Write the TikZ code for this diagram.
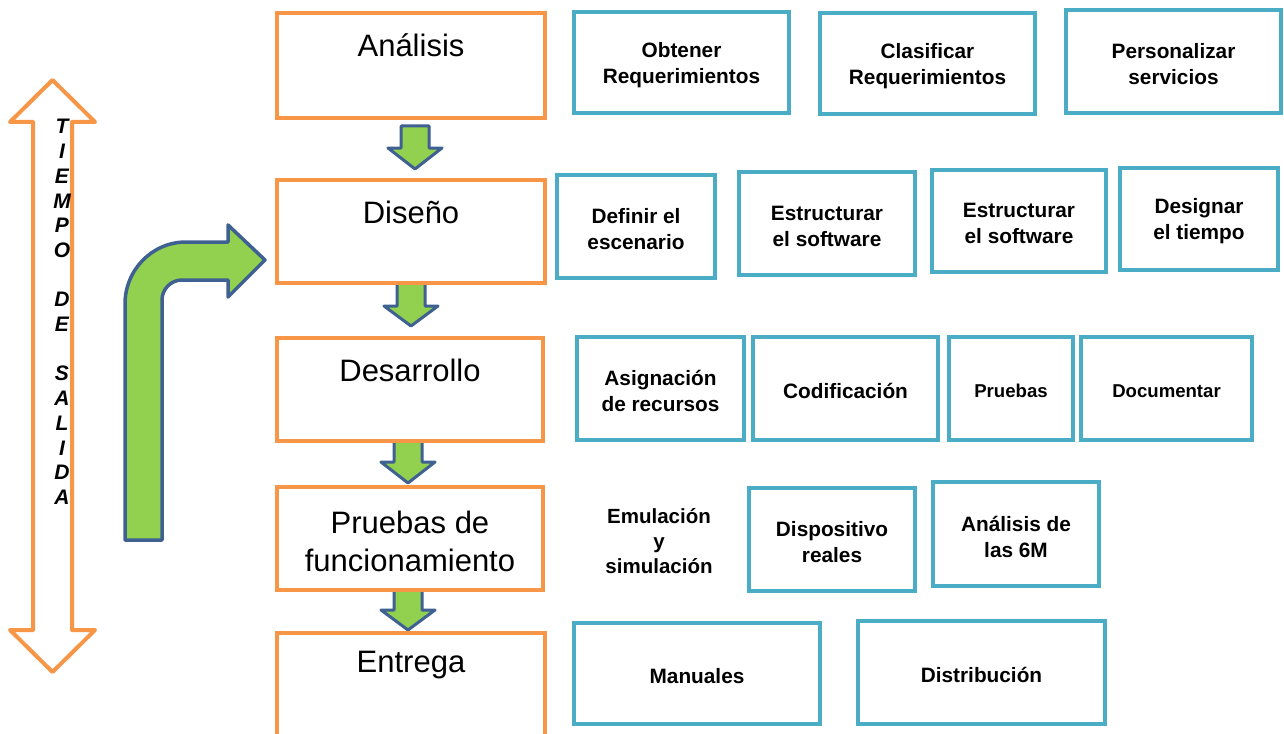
\documentclass[tikz,border=0pt]{standalone}
\usepackage{fontspec}
\setmainfont{Liberation Sans}
\definecolor{corange}{HTML}{F79646}
\definecolor{cblue}{HTML}{4BACC6}
\definecolor{cgreen}{HTML}{92D050}
\definecolor{cnavy}{HTML}{3E6192}
\newcommand\gdownarrow[4]{%
  \draw[garrow] ({#1-14},#2) -- ({#1+14},#2) -- ({#1+14},#3) -- ({#1+27},#3)
    -- (#1,#4) -- ({#1-27},#3) -- ({#1-14},#3) -- cycle;}
% name, x, y, width(pt), height(pt), text, text style
\newcommand\bluebox[7]{%
  \node[bframe, minimum width=#4, minimum height=#5] (#1) at (#2,#3) {};
  \node[#7] (#1-t) at ([yshift=-1.25pt]#1.center) {#6};}
\begin{document}
\begin{tikzpicture}[x=0.5pt,y=-0.5pt,
  obox/.style={draw=corange, line width=2pt, fill=white, minimum width=134pt, inner sep=0pt},
  bframe/.style={draw=cblue, line width=2pt, fill=white, inner sep=0pt},
  btxt/.style={align=center, inner sep=0pt, font=\bfseries\fontsize{10.4}{13}\selectfont},
  stxt/.style={btxt, font=\bfseries\fontsize{9.3}{12}\selectfont},
  bigtxt/.style={font=\fontsize{15.5}{19}\selectfont, align=center, inner sep=0pt},
  plaintxt/.style={font=\bfseries\fontsize{10.25}{12.5}\selectfont, align=center, inner sep=0pt},
  vtxt/.style={font=\bfseries\itshape\fontsize{10.5}{12.35}\selectfont, align=center, inner sep=0pt},
  garrow/.style={draw=cnavy, fill=cgreen, line width=1.5pt, line join=round},
  oarrow/.style={draw=corange, fill=white, line width=2pt, line join=round}]
\fill[white] (0,0) rectangle (1284,733);
\useasboundingbox (0,0) rectangle (1284,733);

% left double arrow
\draw[oarrow] (33,122) -- (10,122) -- (52.5,80) -- (95,122) -- (72,122) -- (72,630)
  -- (95,630) -- (52.5,672) -- (10,630) -- (33,630) -- cycle;
\node[vtxt] (tds) at (62,312) {T\\I\\E\\M\\P\\O\\~\\D\\E\\~\\S\\A\\L\\I\\D\\A};

% bent green arrow
\draw[garrow, line width=1.75pt] (125,540) -- (125,304) .. controls (125,270) and (152,242) .. (186,242)
  -- (228,242) -- (228,225) -- (265,260) -- (228,297) -- (228,280) -- (182,280)
  .. controls (171,280) and (162,289) .. (162,300) -- (162,540) -- cycle;

% green down arrows
\gdownarrow{415}{126}{148}{169}
\gdownarrow{411}{283}{306}{326}
\gdownarrow{408}{441}{462}{483}
\gdownarrow{408}{590}{610}{630}

% orange phase boxes
\node[obox, minimum height=52.5pt] (ana) at (411,65.5) {};
\node[obox, minimum height=51.5pt] (dis) at (411,231.5) {};
\node[obox, minimum width=133pt, minimum height=51.5pt] (des) at (410,389.5) {};
\node[obox, minimum width=133pt, minimum height=51.5pt] (pru) at (410,538.5) {};
\node[obox, minimum height=56pt] (ent) at (411,689) {};

\node[bigtxt] (anat) at (411,45) {Análisis};
\node[bigtxt] (dist) at (411,212) {Diseño};
\node[bigtxt] (dest) at (410,370) {Desarrollo};
\node[bigtxt] (prut) at (410,541) {Pruebas de\\funcionamiento};
\node[bigtxt] (entt) at (411,665) {Entrega};

% row 1
\bluebox{obt}{681.5}{62.5}{107.5pt}{50.5pt}{Obtener\\Requerimientos}{btxt}
\bluebox{cla}{927.5}{63.5}{107.5pt}{50.5pt}{Clasificar\\Requerimientos}{btxt}
\bluebox{per}{1173.5}{61.5}{107.5pt}{51.5pt}{Personalizar\\servicios}{btxt}
% row 2
\bluebox{def}{636}{226.5}{79pt}{51.5pt}{Definir el\\escenario}{btxt}
\bluebox{est1}{827}{223.5}{88pt}{51.5pt}{Estructurar\\el software}{btxt}
\bluebox{est2}{1019}{221}{87pt}{51pt}{Estructurar\\el software}{btxt}
\bluebox{dsg}{1199}{219}{79pt}{51pt}{Designar\\el tiempo}{btxt}
% row 3
\bluebox{asg}{660.5}{388.5}{83.5pt}{51.5pt}{Asignación\\de recursos}{btxt}
\bluebox{cod}{845.5}{388.5}{92.5pt}{51.5pt}{Codificación}{btxt}
\bluebox{prb}{1011}{388.5}{62pt}{51.5pt}{Pruebas}{stxt}
\bluebox{doc}{1166.5}{388.5}{85.5pt}{51.5pt}{Documentar}{stxt}
% row 4
\node[plaintxt] (emu) at (659,541) {Emulación\\y\\simulación};
\bluebox{dsp}{832}{539.5}{83pt}{51.5pt}{Dispositivo\\reales}{btxt}
\bluebox{a6m}{1016}{534}{83pt}{52pt}{Análisis de\\las 6M}{btxt}
% row 5
\bluebox{man}{697}{673.5}{123pt}{50.5pt}{Manuales}{btxt}
\bluebox{dtb}{981.5}{672.5}{123.5pt}{51.5pt}{Distribución}{btxt}
\end{tikzpicture}
\end{document}
